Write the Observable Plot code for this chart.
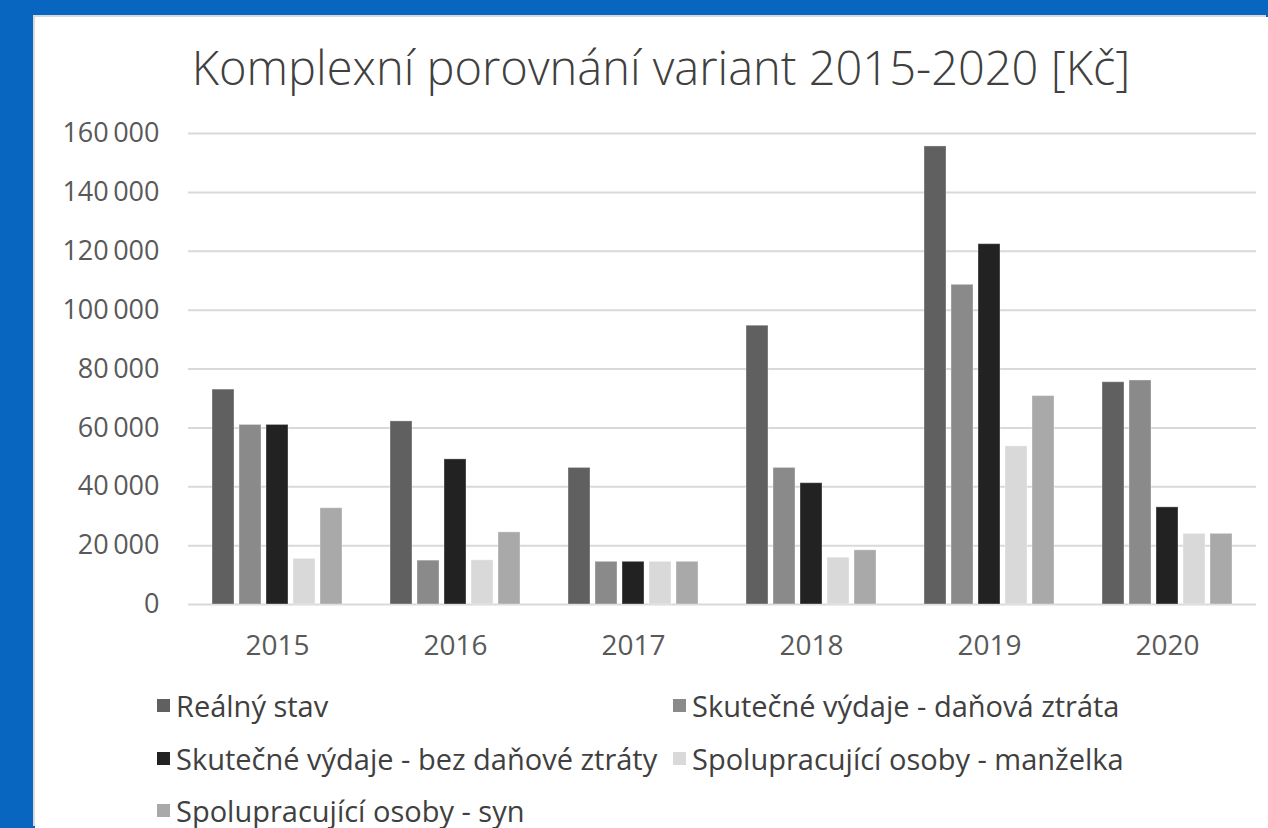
<!DOCTYPE html>
<html>
<head>
<meta charset="utf-8">
<script src="https://cdn.jsdelivr.net/npm/d3@7"></script>
<script src="https://cdn.jsdelivr.net/npm/@observablehq/plot@0.6"></script>
<style>
  html, body { margin: 0; padding: 0; }
  body { width: 1268px; height: 828px; background: #0866c1; position: relative; overflow: hidden; font-family: "Open Sans", "Noto Sans", sans-serif; }
  #card { position: absolute; left: 35px; top: 17px; width: 1233px; height: 811px; background: #fff; box-shadow: -2px -2px 0 #d9d9d9; }
  #title { position: absolute; left: 626px; top: 22px; transform: translateX(-50%); white-space: nowrap; font-size: 47px; font-weight: 300; color: #404040; line-height: 1.2; }
  #chart { position: absolute; left: 0; top: 0; }
  .leg { position: absolute; display: flex; align-items: center; font-size: 29px; font-weight: 400; color: #404040; white-space: nowrap; }
  .leg .sw { width: 13px; height: 13px; margin-right: 6px; }
</style>
</head>
<body>
<div id="card">
  <div id="title">Komplexní porovnání variant 2015-2020 [Kč]</div>
  <div id="chart"></div>
  <div id="legend"></div>
</div>
<script>
const years = ["2015", "2016", "2017", "2018", "2019", "2020"];
const seriesNames = [
  "Reálný stav",
  "Skutečné výdaje - daňová ztráta",
  "Skutečné výdaje - bez daňové ztráty",
  "Spolupracující osoby - manželka",
  "Spolupracující osoby - syn"
];
const realnyStav      = [73000, 62200, 46400, 94700, 155600, 75500];
const danovaZtrata    = [61000, 14900, 14500, 46400, 108600, 76100];
const bezDanoveZtraty = [61000, 49300, 14500, 41200, 122400, 33000];
const manzelka        = [15500, 15000, 14500, 15900, 53700, 24000];
const syn             = [32700, 24500, 14500, 18400, 70800, 24000];
const colors = ["#606060", "#8a8a8a", "#222222", "#d9d9d9", "#a9a9a9"];
const yTicks = [0, 20000, 40000, 60000, 80000, 100000, 120000, 140000, 160000];

const allSeries = [realnyStav, danovaZtrata, bezDanoveZtraty, manzelka, syn];
const data = [];
years.forEach((yr, i) => {
  seriesNames.forEach((s, j) => data.push({year: yr, series: s, value: allSeries[j][i]}));
});

const fmt = d => d3.format(",")(d).replace(/,/g, "\u2009");

const chart = Plot.plot({
  width: 1233,
  height: 650,
  marginLeft: 151,
  marginRight: 10,
  marginTop: 116,
  marginBottom: 63,
  style: {background: "transparent", fontFamily: "'Open Sans', 'Noto Sans', sans-serif", color: "#595959"},
  fx: {domain: years, padding: 0, label: null},
  x: {domain: seriesNames, paddingInner: 0.2, paddingOuter: 0.845, axis: null},
  y: {domain: [0, 160000], label: null},
  color: {domain: seriesNames, range: colors},
  marks: [
    Plot.ruleY(yTicks, {stroke: "#d9d9d9", strokeWidth: 2}),
    Plot.barY(data, {fx: "year", x: "series", y: "value", fill: "series", stroke: "#ffffff", strokeOpacity: 0.35, strokeWidth: 1}),
    Plot.axisY({ticks: yTicks, tickSize: 0, tickPadding: 29, tickFormat: fmt, fontSize: 27, label: null, fill: "#595959"}),
    Plot.axisFx({anchor: "bottom", tickSize: 0, tickPadding: 31, fontSize: 28, label: null, fill: "#595959"})
  ]
});
document.getElementById("chart").appendChild(chart);

const legend = document.getElementById("legend");
const pos = [[122, 688], [638, 688], [122, 741], [638, 741], [122, 793]];
seriesNames.forEach((s, i) => {
  const d = document.createElement("div");
  d.className = "leg";
  d.style.left = pos[i][0] + "px";
  d.style.top = (pos[i][1] - 20) + "px";
  d.style.height = "40px";
  const sw = document.createElement("span");
  sw.className = "sw";
  sw.style.background = colors[i];
  const t = document.createElement("span");
  t.textContent = s;
  d.appendChild(sw); d.appendChild(t);
  legend.appendChild(d);
});
</script>
</body>
</html>
